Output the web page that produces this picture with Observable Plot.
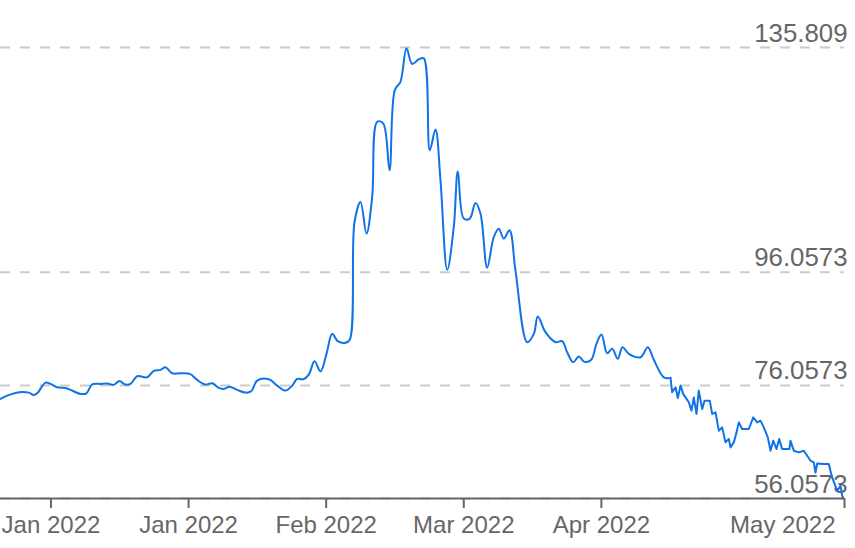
<!DOCTYPE html>
<html>
<head>
<meta charset="utf-8">
<script src="https://cdn.jsdelivr.net/npm/d3@7"></script>
<script src="https://cdn.jsdelivr.net/npm/@observablehq/plot@0.6"></script>
<style>
  html, body { margin: 0; padding: 0; background: #fff; }
  #chart svg { display: block; }
</style>
</head>
<body>
<div id="chart"></div>
<script>
// x in "days" from the left edge of the chart, y = price
const days = [
  0, 1.46, 3.27, 4.73, 6.17, 7.26, 8.0, 9.81, 10.9, 12.36, 14.17, 15.26, 17.44, 18.75, 19.99,
  21.8, 23.26, 24.7, 25.94, 27.03, 28.34, 29.8, 31.98, 33.42, 34.88, 35.97, 37.43, 39.24,
  41.27, 42.88, 44.69, 46.15, 47.59, 48.68, 49.92, 51.6, 53.41, 54.65, 55.96, 58.49, 60.32,
  62.13, 63.59, 64.68, 65.99, 67.21, 68.45, 69.76, 71.07, 72.31, 73.53, 75.21, 76.15,
  77.18, 78.48, 79.79, 81.03, 82.12, 83.43, 84.81, 85.96, 87.2, 88.51, 89.75, 91.19, 92.28,
  93.59, 94.83, 95.92, 97.39, 98.82, 99.7, 101.0, 102.31, 103.55, 104.64, 106.1, 107.54,
  108.63, 109.72, 110.97, 112.27, 114.82, 116.27, 117.14, 118.81, 120.99, 122.45, 123.54,
  124.85, 126.07, 127.32, 128.78, 129.93, 131.02, 132.26, 133.35, 134.57, 135.6, 136.97,
  139.53, 141.12, 142.43, 144.6, 146.07,
  146.43, 147.16, 147.66, 148.25, 148.83, 149.33, 150.06, 150.64, 151.14, 151.73, 152.23,
  152.98, 153.48, 154.63, 155.15, 155.88, 156.6, 157.34, 158.05, 158.78, 159.15, 159.87,
  160.46, 160.96, 161.7, 163.14, 164.1, 164.97, 165.69, 166.41, 167.28, 167.87, 168.46,
  169.17, 169.76, 170.41, 172.01, 172.23, 172.95, 174.04, 175.13, 175.87, 176.59, 177.31,
  177.68, 178.05, 179.49, 180.57, 181.31, 182.4, 183.13, 183.5, 183.84
];
const prices = [
  73.67, 74.25, 74.73, 74.91, 74.78, 74.37, 74.66, 76.55, 76.32, 75.72, 75.61, 75.26, 74.55, 74.66, 76.25,
  76.32, 76.38, 76.15, 76.85, 76.25, 76.32, 77.67, 77.49, 78.63, 78.80, 79.26, 78.20, 78.20,
  78.09, 77.03, 76.20, 76.43, 75.61, 75.44, 75.84, 75.26, 74.78, 75.01, 76.91, 77.14, 76.02,
  75.14, 76.02, 77.21, 77.14, 77.97, 80.33, 78.56, 81.64, 85.18, 83.87, 83.59, 84.12,
  104.95, 108.49, 102.90, 109.38, 122.67, 122.38, 114.11, 128.28, 129.75, 135.67, 132.89, 133.72, 133.90,
  117.66, 121.32, 112.34, 96.49, 104.07, 113.93, 105.56, 105.56, 108.32, 106.44, 96.88, 102.30,
  103.78, 102.01, 103.48, 96.40, 83.70, 85.18, 88.25, 85.47, 83.70, 83.87, 81.92,
  80.15, 81.16, 80.22, 80.58, 83.41, 85.06, 81.75, 82.53, 80.75, 82.81, 81.64,
  81.04, 82.81, 80.58, 77.49, 77.39,
  74.84, 75.72, 73.84, 76.02, 74.55, 73.95, 73.07, 71.59, 73.90, 71.01, 75.14,
  71.89, 73.36, 73.36, 71.01, 71.29, 68.05, 68.64, 65.98, 66.58, 65.09, 65.98,
  67.75, 69.52, 68.35, 68.35, 70.41, 69.52, 69.82, 68.64, 66.87, 64.51, 66.28,
  64.81, 66.58, 64.81, 64.81, 66.28, 64.51, 64.21, 64.51, 63.62, 62.74, 62.44,
  60.66, 62.26, 62.15, 62.15, 59.78, 57.42, 58.31, 56.54, 56.00
];
const splitDay = 146.07; // smooth curve before, jagged segments after

const yTicks = [135.809, 96.0573, 76.0573, 56.0573];
const yTickLabels = ["135.809", "96.0573", "76.0573", "56.0573"];
const xTicks = [11, 41, 71, 101, 131, 184];
const xTickLabels = ["Jan 2022", "Jan 2022", "Feb 2022", "Mar 2022", "Apr 2022", "May 2022"];

const data = days.map((d, i) => ({day: d, price: prices[i]}));
const smooth = data.filter(d => d.day <= splitDay);
const jagged = data.filter(d => d.day >= splitDay);
const yAxisRows = yTicks.map((v, i) => ({v, label: yTickLabels[i]}));
const xAxisRows = xTicks.map((v, i) => ({v, label: xTickLabels[i]}));

const font = "'Liberation Sans', Arial, sans-serif";
const grey = "#666666";
const blue = "#0f73e6";

const chart = Plot.plot({
  width: 855,
  height: 548,
  marginLeft: 0,
  marginRight: 11,
  marginTop: 47,
  marginBottom: 50,
  style: {fontFamily: font, background: "#fff", overflow: "visible"},
  x: {domain: [0, 184]},
  y: {domain: [56.0573, 135.809], axis: null},
  marks: [
    Plot.ruleY(yTicks, {stroke: "#cccccc", strokeWidth: 2, strokeDasharray: "10,10"}),
    Plot.text(yAxisRows, {
      x: 184, y: "v", text: "label", textAnchor: "end", lineAnchor: "bottom",
      dx: 3, dy: -6, fontSize: 25.8, fill: grey
    }),
    Plot.line(smooth, {x: "day", y: "price", curve: "catmull-rom", stroke: blue, strokeWidth: 2}),
    Plot.line(jagged, {x: "day", y: "price", curve: "linear", stroke: blue, strokeWidth: 2}),
    Plot.ruleY([yTicks[3]], {stroke: grey, strokeWidth: 2}),
    Plot.axisX(xTicks, {tickSize: 10, stroke: grey, strokeWidth: 2, tickFormat: () => "", label: null}),
    Plot.text(xAxisRows.slice(0, 5), {
      x: "v", text: "label", frameAnchor: "bottom", lineAnchor: "bottom", dy: 34,
      fontSize: 24, fill: grey, textAnchor: "middle"
    }),
    Plot.text(xAxisRows.slice(5), {
      x: "v", text: "label", frameAnchor: "bottom", lineAnchor: "bottom", dy: 34, dx: -9,
      fontSize: 24, fill: grey, textAnchor: "end"
    })
  ]
});
document.getElementById("chart").appendChild(chart);
</script>
</body>
</html>
